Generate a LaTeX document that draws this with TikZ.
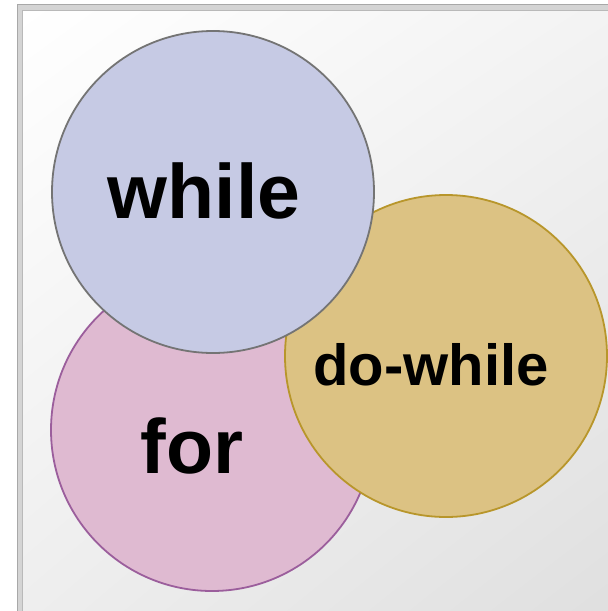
\documentclass[tikz,border=0pt]{standalone}
\usepackage{fontspec}
\setmainfont{Liberation Sans}
\usetikzlibrary{shadings}
\definecolor{whilefill}{HTML}{C6CAE4}
\definecolor{whiledraw}{HTML}{747474}
\definecolor{forfill}{HTML}{DFBAD1}
\definecolor{fordraw}{HTML}{9B5E9C}
\definecolor{dofill}{HTML}{DCC283}
\definecolor{dodraw}{HTML}{B8962B}
\definecolor{frameouter}{HTML}{A8A8A8}
\definecolor{framemid}{HTML}{D4D4D4}
\tikzset{
  blob/.style={circle, minimum size=322pt, inner sep=0pt, line width=1.8pt},
  bigword/.style={anchor=base, font=\fontsize{77}{80}\selectfont\bfseries, inner sep=0pt},
  smallword/.style={anchor=base, font=\fontsize{58}{62}\selectfont\bfseries, inner sep=0pt}
}
\begin{document}
\begin{tikzpicture}[x=1pt, y=-1pt]
\useasboundingbox (0,0) rectangle (608,611);
\fill[white] (0,0) rectangle (608,611);
% frame
\fill[framemid, draw=frameouter, line width=1.5pt] (17.5,4.5) rectangle (640,640);
\shade[upper left=white, upper right=white!95!black, lower left=white!93!black, lower right=white!87!black]
  (22,10) rectangle (640,640);
\draw[frameouter!80, line width=1pt] (22,10) -- (22,640);
\draw[frameouter!80, line width=1pt] (22,10) -- (640,10);
% circles
\node[blob, fill=forfill, draw=fordraw] (for) at (212,430) {};
\node[blob, fill=dofill, draw=dodraw] (dowhile) at (446,356) {};
\node[blob, fill=whilefill, draw=whiledraw] (while) at (213,192) {};
% labels
\node[bigword] (lwhile) at (204,218) {while};
\node[bigword] (lfor) at (192,473) {for};
\node[smallword] (ldo) at (431,385) {do-while};
\end{tikzpicture}
\end{document}
